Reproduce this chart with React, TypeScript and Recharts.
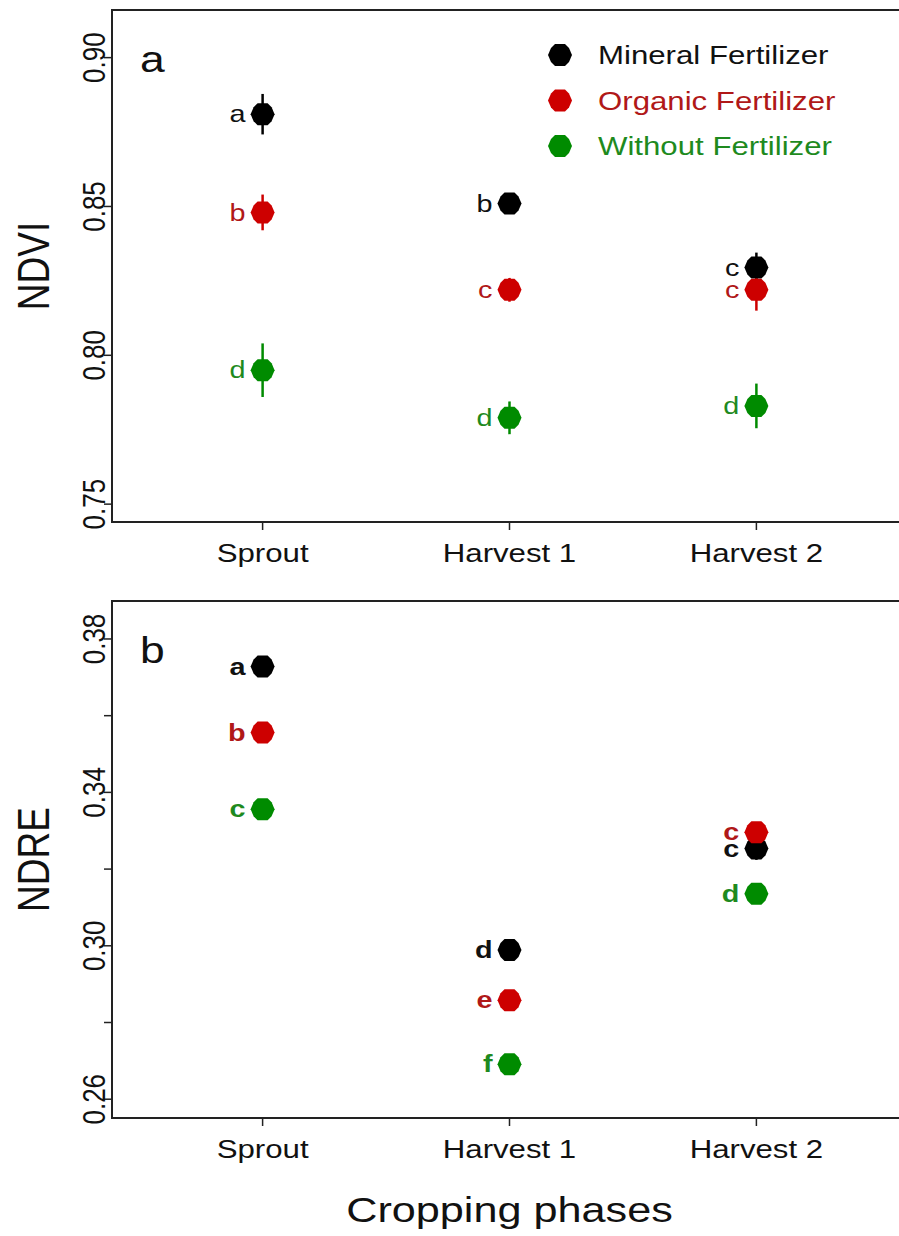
import React from 'react';
import {
  ScatterChart,
  Scatter,
  XAxis,
  YAxis,
  ErrorBar,
  ReferenceArea,
  Label,
} from 'recharts';

// cropping phases, plotted at x = 1, 2, 3
const phases = ['Sprout', 'Harvest 1', 'Harvest 2'];
const phasePos = [1, 2, 3];

const seriesNames = ['Mineral Fertilizer', 'Organic Fertilizer', 'Without Fertilizer'];
const seriesColors = ['#000000', '#CD0000', '#008B00'];
const letterColors = ['#111111', '#B01818', '#1E8A1E'];

// NDVI (panel a)
const ndviMineral = [0.881, 0.851, 0.8295];
const ndviMineralErr = [0.0068, 0.002, 0.005];
const ndviMineralLetters = ['a', 'b', 'c'];
const ndviOrganic = [0.848, 0.822, 0.822];
const ndviOrganicErr = [0.006, 0.004, 0.007];
const ndviOrganicLetters = ['b', 'c', 'c'];
const ndviWithout = [0.795, 0.779, 0.783];
const ndviWithoutErr = [0.009, 0.0055, 0.0075];
const ndviWithoutLetters = ['d', 'd', 'd'];
const ndviTicks = [0.75, 0.8, 0.85, 0.9];
const ndviTickLabels = ['0.75', '0.80', '0.85', '0.90'];

// NDRE (panel b)
const ndreMineral = [0.3728, 0.2989, 0.3254];
const ndreMineralErr = [0.001, 0.001, 0.003];
const ndreMineralLetters = ['a', 'd', 'c'];
const ndreOrganic = [0.3556, 0.2858, 0.3296];
const ndreOrganicErr = [0.001, 0.001, 0.001];
const ndreOrganicLetters = ['b', 'e', 'c'];
const ndreWithout = [0.3356, 0.2691, 0.3136];
const ndreWithoutErr = [0.001, 0.001, 0.001];
const ndreWithoutLetters = ['c', 'f', 'd'];
const ndreTicks = [0.26, 0.28, 0.3, 0.32, 0.34, 0.36, 0.38];
const ndreTickLabels = ['0.26', '', '0.30', '', '0.34', '', '0.38'];

const FONT = '"Liberation Sans", Arial, sans-serif';
const XDOMAIN = [0.39, 3.61];

const toRows = (vals: number[], errs: number[], letters: string[]) =>
  vals.map((v, i) => ({ x: phasePos[i], y: v, err: errs[i], letter: letters[i] }));

// the original figure is a bit stretched sideways, so text gets scaleX too
function SText({ x, y, size, children, anchor = 'middle', fill = '#111', weight = 'normal', rotate = false }: any) {
  return (
    <text
      transform={`translate(${x},${y}) scale(1.2,1)${rotate ? ' rotate(-90)' : ''}`}
      textAnchor={anchor}
      dominantBaseline="central"
      fontSize={size}
      fill={fill}
      fontWeight={weight}
      fontFamily={FONT}
    >
      {children}
    </text>
  );
}

const markerPoints = (cx: number, cy: number) =>
  [
    [-12, 0], [-9, -7], [-5, -11], [5, -11], [9, -7],
    [12, 0], [9, 7], [5, 11], [-5, 11], [-9, 7],
  ]
    .map(([dx, dy]) => `${cx + dx},${cy + dy}`)
    .join(' ');

const makeShape = (color: string, letterColor: string, bold: boolean) => (props: any) => {
  const { cx, cy, payload } = props;
  if (cx == null || cy == null) return <g />;
  return (
    <g>
      <polygon points={markerPoints(cx, cy)} fill={color} />
      <SText x={cx - 17} y={cy} size={24} anchor="end" fill={letterColor} weight={bold ? 'bold' : 'normal'}>
        {payload.letter}
      </SText>
    </g>
  );
};

const XTick = ({ x, y, payload }: any) => (
  <SText x={x} y={y + 21} size={26}>
    {phases[phasePos.indexOf(payload.value)]}
  </SText>
);

const makeYTick = (ticks: number[], labels: string[]) => ({ x, y, payload }: any) => {
  const label = labels[ticks.findIndex((t) => Math.abs(t - payload.value) < 1e-9)];
  if (!label) return <g />;
  return (
    <SText x={x - 8} y={y} size={26} rotate>
      {label}
    </SText>
  );
};

function Panel({
  letter,
  yName,
  domain,
  ticks,
  tickLabels,
  series,
  height,
  top,
  plotBottom,
  bold,
  showLegend,
  xTitle,
}: any) {
  return (
    <div style={{ position: 'absolute', left: 0, top }}>
      <ScatterChart
        width={960}
        height={height}
        margin={{ top: plotBottom.top, right: 53, bottom: 0, left: 0 }}
      >
        <XAxis
          type="number"
          dataKey="x"
          domain={XDOMAIN}
          ticks={phasePos}
          allowDataOverflow
          axisLine={false}
          tickSize={8}
          tickLine={{ stroke: '#222', strokeWidth: 1.5 }}
          tick={<XTick />}
          height={plotBottom.axisHeight}
        >
          {xTitle && (
            <Label
              content={({ viewBox }: any) => (
                <SText x={viewBox.x + viewBox.width / 2} y={viewBox.y + 91} size={36}>
                  {xTitle}
                </SText>
              )}
            />
          )}
        </XAxis>
        <YAxis
          type="number"
          dataKey="y"
          domain={domain}
          ticks={ticks}
          allowDataOverflow
          axisLine={false}
          tickSize={8}
          tickLine={{ stroke: '#222', strokeWidth: 1.5 }}
          tick={makeYTick(ticks, tickLabels)}
          width={112}
        >
          <Label
            content={({ viewBox }: any) => (
              <SText x={34} y={viewBox.y + viewBox.height / 2} size={37} rotate>
                {yName}
              </SText>
            )}
          />
        </YAxis>
        <ReferenceArea
          x1={XDOMAIN[0]}
          x2={XDOMAIN[1]}
          y1={domain[0]}
          y2={domain[1]}
          fill="none"
          fillOpacity={0}
          stroke="#222"
          strokeWidth={2}
          ifOverflow="visible"
        >
          <Label
            content={({ viewBox }: any) => (
              <g>
                <SText x={viewBox.x + 28} y={viewBox.y + 49} size={37} anchor="start">
                  {letter}
                </SText>
                {showLegend &&
                  seriesNames.map((name, i) => (
                    <g key={name}>
                      <polygon points={markerPoints(560, 55 + i * 45.5)} fill={seriesColors[i]} />
                      <SText x={598} y={55 + i * 45.5} size={26} anchor="start" fill={i === 0 ? '#111' : letterColors[i]}>
                        {name}
                      </SText>
                    </g>
                  ))}
              </g>
            )}
          />
        </ReferenceArea>
        {series.map((s: any, i: number) => (
          <Scatter
            key={seriesNames[i]}
            name={seriesNames[i]}
            data={s}
            fill={seriesColors[i]}
            shape={makeShape(seriesColors[i], letterColors[i], bold)}
            isAnimationActive={false}
          >
            <ErrorBar dataKey="err" direction="y" width={0} stroke={seriesColors[i]} strokeWidth={2.5} />
          </Scatter>
        ))}
      </ScatterChart>
    </div>
  );
}

export default function App() {
  const ndviSeries = [
    toRows(ndviMineral, ndviMineralErr, ndviMineralLetters),
    toRows(ndviOrganic, ndviOrganicErr, ndviOrganicLetters),
    toRows(ndviWithout, ndviWithoutErr, ndviWithoutLetters),
  ];
  const ndreSeries = [
    toRows(ndreMineral, ndreMineralErr, ndreMineralLetters),
    toRows(ndreOrganic, ndreOrganicErr, ndreOrganicLetters),
    toRows(ndreWithout, ndreWithoutErr, ndreWithoutLetters),
  ];

  return (
    <div
      style={{
        position: 'absolute',
        left: 0,
        top: 0,
        width: 899,
        height: 1236,
        overflow: 'hidden',
        background: '#fff',
      }}
    >
      <Panel
        letter="a"
        yName="NDVI"
        domain={[0.744, 0.916]}
        ticks={ndviTicks}
        tickLabels={ndviTickLabels}
        series={ndviSeries}
        height={590}
        top={0}
        plotBottom={{ top: 10, axisHeight: 68 }}
        bold={false}
        showLegend
      />
      <Panel
        letter="b"
        yName="NDRE"
        domain={[0.2551, 0.3899]}
        ticks={ndreTicks}
        tickLabels={ndreTickLabels}
        series={ndreSeries}
        height={646}
        top={590}
        plotBottom={{ top: 11, axisHeight: 118 }}
        bold
        xTitle="Cropping phases"
      />
    </div>
  );
}
